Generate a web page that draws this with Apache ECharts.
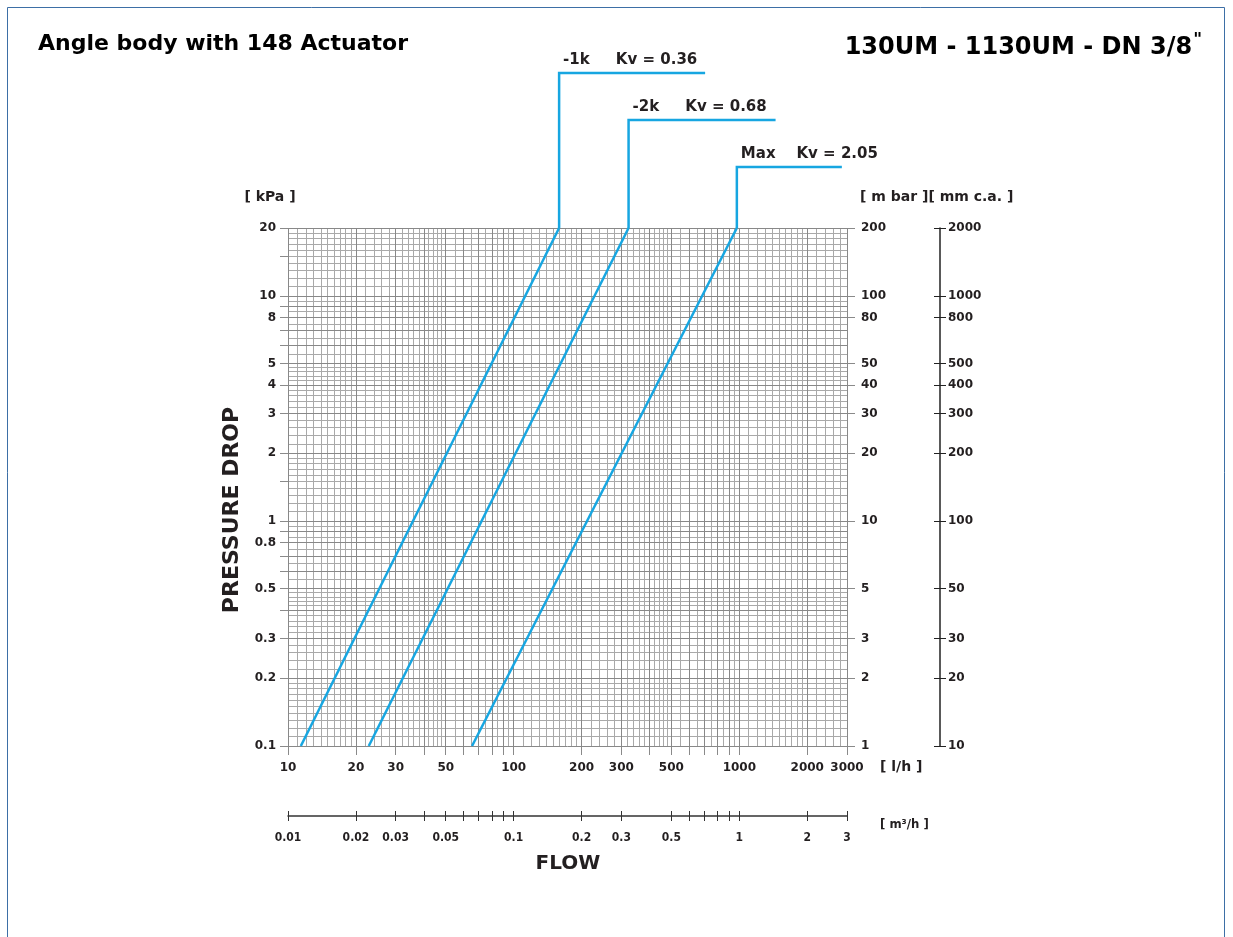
<!DOCTYPE html>
<html>
<head>
<meta charset="utf-8">
<title>Angle body with 148 Actuator</title>
<script src="https://cdn.jsdelivr.net/npm/echarts@6/dist/echarts.min.js"></script>
<style>
html, body { margin: 0; padding: 0; background: #fff; }
#chart { width: 1233px; height: 937px; }
</style>
</head>
<body>
<div id="chart"></div>
<script>
// curves: flow [l/h] at 0.1 kPa and at 20 kPa
var curveNames = ['-1k', '-2k', 'Max'];
var curveKv = ['0.36', '0.68', '2.05'];
var flowAtLow = [11.4, 22.8, 65.4];
var flowAtHigh = [159, 323, 975];
var dropLow = 0.1;
var dropHigh = 20;

// axis labels / ticks
var flowLabels = [10, 20, 30, 50, 100, 200, 300, 500, 1000, 2000, 3000];
var flowTicks = [10, 20, 30, 40, 50, 60, 70, 80, 90, 100, 200, 300, 400, 500, 600, 700, 800, 900, 1000, 2000, 3000];
var m3Labels = [0.01, 0.02, 0.03, 0.05, 0.1, 0.2, 0.3, 0.5, 1, 2, 3];
var m3Ticks = [0.01, 0.02, 0.03, 0.04, 0.05, 0.06, 0.07, 0.08, 0.09, 0.1, 0.2, 0.3, 0.5, 0.6, 0.7, 0.8, 0.9, 1, 2, 3];
var kpaLabels = [0.1, 0.2, 0.3, 0.5, 0.8, 1, 2, 3, 4, 5, 8, 10, 20];
var kpaTicks = [0.1, 0.2, 0.3, 0.4, 0.5, 0.6, 0.7, 0.8, 0.9, 1, 1.5, 2, 3, 4, 5, 6, 7, 8, 9, 10, 15, 20];
var mbarLabels = [1, 2, 3, 5, 10, 20, 30, 40, 50, 80, 100, 200];
var mmLabels = [10, 20, 30, 50, 100, 200, 300, 400, 500, 800, 1000, 2000];

// leader lines above the plot: height above the top edge, length of the flat part, gap in the label
var leaderLayout = [
	{ rise: 155, len: 146, gap: '     ' },
	{ rise: 108, len: 147, gap: '     ' },
	{ rise: 61, len: 105, gap: '    ' }
];

var fontFam = '"DejaVu Sans", Verdana, sans-serif';
var condFam = '"DejaVu Sans Condensed", "DejaVu Sans", sans-serif';
var txt = '#231f20';
var blue = '#17a6e1';

// log paper lines: 1-2 by 0.1, 2-5 by 0.2, 5-10 by 0.5
function logPaper(from, to, major) {
	var out = [];
	for (var d = from; d < to; d *= 10) {
		var m;
		var steps = [];
		for (m = 10; m < 20; m++) steps.push(m);
		for (m = 20; m < 50; m += 2) steps.push(m);
		for (m = 50; m < 100; m += 5) steps.push(m);
		for (var i = 0; i < steps.length; i++) {
			var isMajor = steps[i] % 10 === 0;
			var v = d * steps[i] / 10;
			if (v <= to * 1.0001 && isMajor === major) out.push(v);
		}
	}
	if (major) out.push(to);
	return out;
}

var chart = echarts.init(document.getElementById('chart'));

function gridSeries(color, major) {
	var lines = [];
	logPaper(10, 3000, major).forEach(function (v) { lines.push({ xAxis: v }); });
	logPaper(0.1, 20, major).forEach(function (v) { lines.push({ yAxis: v }); });
	return {
		type: 'line',
		data: [],
		xAxisIndex: 0,
		yAxisIndex: 0,
		z: 1,
		silent: true,
		markLine: {
			silent: true,
			symbol: 'none',
			animation: false,
			label: { show: false },
			emphasis: { disabled: true },
			lineStyle: { color: color, width: 1, type: 'solid' },
			data: lines
		}
	};
}

var series = [gridSeries('#a9a9a9', false), gridSeries('#888888', true)];
for (var i = 0; i < curveNames.length; i++) {
	series.push({
		name: curveNames[i],
		type: 'line',
		xAxisIndex: 0,
		yAxisIndex: 0,
		z: 5,
		showSymbol: false,
		animation: false,
		lineStyle: { color: blue, width: 2.5 },
		data: [[flowAtLow[i], dropLow], [flowAtHigh[i], dropHigh]]
	});
}

function plainNum(v) {
	return String(v);
}

var labelStyle = { color: txt, fontFamily: fontFam, fontWeight: 'bold', fontSize: 12, formatter: plainNum };
var unitStyle = { color: txt, fontFamily: fontFam, fontWeight: 'bold', fontSize: 14 };

function logAxis(extra) {
	var base = {
		type: 'log',
		logBase: 10,
		splitLine: { show: false },
		minorTick: { show: false },
		minorSplitLine: { show: false }
	};
	for (var k in extra) base[k] = extra[k];
	return base;
}

var option = {
	animation: false,
	backgroundColor: '#fff',
	title: [
		{
			text: 'Angle body with 148 Actuator',
			left: 33, top: 28,
			textStyle: { fontFamily: fontFam, fontWeight: 'bold', fontSize: 22, color: '#000' }
		},
		{
			text: '130UM - 1130UM - DN 3/8{sup|"}',
			right: 26, top: 27,
			textStyle: {
				fontFamily: fontFam, fontWeight: 'bold', fontSize: 24, color: '#000',
				rich: { sup: { fontFamily: fontFam, fontWeight: 'bold', fontSize: 17, color: '#000', verticalAlign: 'top', padding: [0, 0, 14, 1] } }
			}
		},
		{
			text: 'FLOW',
			left: 563, top: 849, textAlign: 'center',
			textStyle: { fontFamily: fontFam, fontWeight: 'bold', fontSize: 20, color: txt }
		}
	],
	grid: { left: 288, right: 386, top: 228, bottom: 191, containLabel: false },
	xAxis: [
		logAxis({
			min: 10, max: 3000,
			position: 'bottom',
			name: '[ l/h ]',
			nameLocation: 'end',
			nameGap: 33,
			nameTextStyle: Object.assign({ verticalAlign: 'top', padding: [14, 0, 0, 0] }, unitStyle),
			axisLine: { show: false },
			axisTick: { show: true, length: 9, lineStyle: { color: '#8a8a8a' }, customValues: flowTicks },
			axisLabel: Object.assign({ margin: 16, customValues: flowLabels }, labelStyle)
		}),
		logAxis({
			min: 0.01, max: 3,
			position: 'bottom',
			offset: 70,
			name: '[ m\u00b3/h ]',
			nameLocation: 'end',
			nameGap: 33,
			nameTextStyle: Object.assign({ verticalAlign: 'top', padding: [2, 0, 0, 0] }, unitStyle, { fontFamily: condFam, fontSize: 13 }),
			axisLine: { show: true, lineStyle: { color: '#333', width: 1.5 } },
			axisTick: { show: true, length: 5, lineStyle: { color: '#333' }, customValues: m3Ticks },
			axisLabel: Object.assign({ margin: 16, customValues: m3Labels }, labelStyle, { fontFamily: condFam, fontSize: 12 })
		}),
		logAxis({
			min: 0.01, max: 3,
			position: 'bottom',
			offset: 70,
			axisLine: { show: false },
			axisTick: { show: true, inside: true, length: 5, lineStyle: { color: '#333' }, customValues: m3Ticks },
			axisLabel: { show: false }
		})
	],
	yAxis: [
		logAxis({
			min: 0.1, max: 20,
			position: 'left',
			name: '[ kPa ]',
			nameLocation: 'end',
			nameGap: 31,
			nameTextStyle: Object.assign({ align: 'center', verticalAlign: 'middle', padding: [0, 36, 0, 0] }, unitStyle),
			axisLine: { show: false },
			axisTick: { show: true, length: 8, lineStyle: { color: '#8a8a8a' }, customValues: kpaTicks },
			axisLabel: Object.assign({ margin: 12, customValues: kpaLabels }, labelStyle)
		}),
		logAxis({
			min: 1, max: 200,
			position: 'right',
			name: '[ m bar ][ mm c.a. ]',
			nameLocation: 'end',
			nameGap: 31,
			nameTextStyle: Object.assign({ align: 'left', verticalAlign: 'middle', padding: [0, 0, 0, 13] }, unitStyle),
			axisLine: { show: false },
			axisTick: { show: true, length: 8, lineStyle: { color: '#8a8a8a' }, customValues: mbarLabels },
			axisLabel: Object.assign({ margin: 14, customValues: mbarLabels }, labelStyle)
		}),
		logAxis({
			min: 10, max: 2000,
			position: 'right',
			offset: 93,
			axisLine: { show: true, lineStyle: { color: '#222', width: 1.5 } },
			axisTick: { show: true, length: 6, lineStyle: { color: '#222' }, customValues: mmLabels },
			axisLabel: Object.assign({ margin: 8, customValues: mmLabels }, labelStyle)
		}),
		logAxis({
			min: 10, max: 2000,
			position: 'right',
			offset: 93,
			axisLine: { show: false },
			axisTick: { show: true, inside: true, length: 6, lineStyle: { color: '#222' }, customValues: mmLabels },
			axisLabel: { show: false }
		})
	],
	series: series
};

chart.setOption(option);

// frame, rotated axis title, leader lines + Kv labels hooked on the top end of each curve
var graphics = [
	{
		type: 'rect',
		silent: true,
		shape: { x: 7.5, y: 7.5, width: 1217, height: 980 },
		style: { fill: 'none', stroke: '#3d6fa6', lineWidth: 1 }
	},
	{
		type: 'text',
		silent: true,
		x: 232, y: 510,
		rotation: Math.PI / 2,
		style: {
			text: 'PRESSURE DROP',
			fill: txt,
			font: 'bold 22px ' + fontFam,
			align: 'center',
			verticalAlign: 'middle'
		}
	}
];
for (var j = 0; j < curveNames.length; j++) {
	var p = chart.convertToPixel({ xAxisIndex: 0, yAxisIndex: 0 }, [flowAtHigh[j], dropHigh]);
	var topY = p[1] - leaderLayout[j].rise;
	graphics.push({
		type: 'polyline',
		silent: true,
		z: 10,
		shape: { points: [[p[0], p[1]], [p[0], topY], [p[0] + leaderLayout[j].len, topY]] },
		style: { stroke: blue, lineWidth: 2.5, fill: null }
	});
	graphics.push({
		type: 'text',
		silent: true,
		z: 10,
		x: p[0] + 4,
		y: topY - 5,
		style: {
			text: curveNames[j] + leaderLayout[j].gap + 'Kv = ' + curveKv[j],
			fill: txt,
			font: 'bold 15px ' + fontFam,
			align: 'left',
			verticalAlign: 'bottom'
		}
	});
}
chart.setOption({ graphic: graphics });

window.onresize = function () {
	chart.resize();
};
</script>
</body>
</html>
